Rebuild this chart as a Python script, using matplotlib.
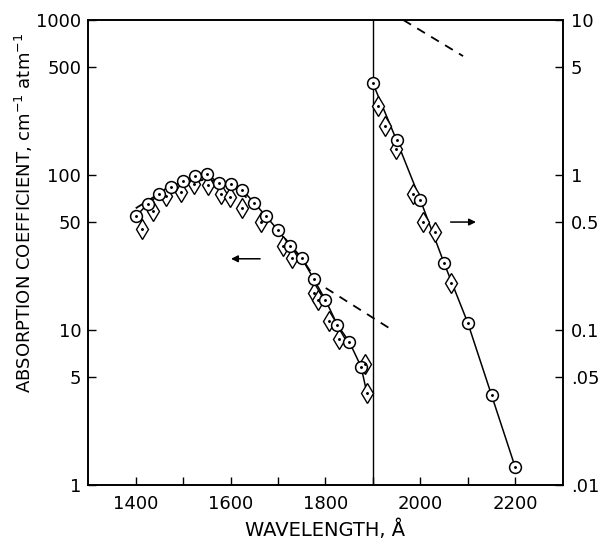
import numpy as np
import matplotlib
matplotlib.use("Agg")
import matplotlib.pyplot as plt

# --- dados ---
# lado esquerdo (eixo esquerdo, cm^-1 atm^-1)
circ_x = [1400, 1425, 1450, 1475, 1500, 1525, 1550, 1575, 1600, 1625,
          1650, 1675, 1700, 1725, 1750, 1775, 1800, 1825, 1850, 1875]
circ_y = [54, 65, 75, 84, 91, 98, 101, 89, 87, 80,
          66, 54, 44, 35, 29, 21.4, 15.6, 10.8, 8.4, 5.8]
diam_x = [1413, 1436, 1463, 1495, 1522, 1552, 1579, 1598, 1625, 1663,
          1710, 1729, 1775, 1785, 1807, 1829, 1884, 1887]
diam_y = [44.5, 59, 73, 78, 88, 86, 75, 72, 61, 50,
          35, 29, 17.4, 15.6, 11.4, 8.8, 6.0, 3.95]
dash_x = [1400, 1450, 1500, 1550, 1600, 1650, 1700, 1750, 1785, 1934]
dash_y = [61, 76, 88, 94, 87, 65, 44, 29, 20, 10.3]

# lado direito (eixo direito)
circ2_x = [1900, 1950, 2000, 2050, 2100, 2150, 2200]
circ2_y = [3.9, 1.67, 0.69, 0.27, 0.111, 0.038, 0.013]
diam2_x = [1910, 1926, 1948, 1985, 2006, 2030, 2064]
diam2_y = [2.78, 2.07, 1.47, 0.75, 0.50, 0.43, 0.20]
dash2_x = [1964, 2090]
dash2_y = [10, 5.85]

left_ticks = [1, 5, 10, 50, 100, 500, 1000]
left_labels = ["1", "5", "10", "50", "100", "500", "1000"]
right_ticks = [0.01, 0.05, 0.1, 0.5, 1, 5, 10]
right_labels = [".01", ".05", "0.1", "0.5", "1", "5", "10"]
x_ticks = [1400, 1500, 1600, 1700, 1800, 1900, 2000, 2100, 2200]
x_labels = ["1400", "", "1600", "", "1800", "", "2000", "", "2200"]

plt.rcParams['font.family'] = ['DejaVu Sans']

fig = plt.figure(figsize=(5.99, 5.39), dpi=100)
ax = fig.add_axes([0.1474, 0.1002, 0.792, 0.8627])
ax2 = ax.twinx()

ax.set_xlim(1300, 2300)
ax.set_yscale('log')
ax.set_ylim(1, 1000)
ax2.set_yscale('log')
ax2.set_ylim(0.01, 10)

circ_kw = dict(marker='o', ms=8.5, mfc='white', mec='black', mew=1.1, ls='none', zorder=4)
diam_kw = dict(marker='d', ms=10, mfc='white', mec='black', mew=1.0, ls='none', zorder=3)
dot_kw = dict(marker='.', ms=2.2, color='black', ls='none', zorder=5)

# esquerda
ax.plot(circ_x + [diam_x[-1]], circ_y + [diam_y[-1]], color='black', lw=1.1, zorder=2)
ax.plot(dash_x, dash_y, color='black', lw=1.3, ls=(0, (5, 4)), zorder=2)
ax.plot(diam_x, diam_y, **diam_kw)
ax.plot(circ_x, circ_y, **circ_kw)
ax.plot(diam_x, diam_y, **dot_kw)
ax.plot(circ_x, circ_y, **dot_kw)

# direita
ax2.plot(circ2_x, circ2_y, color='black', lw=1.1, zorder=2)
ax2.plot(dash2_x, dash2_y, color='black', lw=1.3, ls=(0, (5, 4)), zorder=2, clip_on=False)
ax2.plot(diam2_x, diam2_y, **diam_kw)
ax2.plot(circ2_x, circ2_y, **circ_kw)
ax2.plot(diam2_x, diam2_y, **dot_kw)
ax2.plot(circ2_x, circ2_y, **dot_kw)

ax.axvline(1900, color='black', lw=1.0)

# setas
arr = dict(arrowstyle='-|>', color='black', lw=1.1, mutation_scale=10)
ax.annotate('', xy=(1595, 28.8), xytext=(1668, 28.8), arrowprops=arr)
ax2.annotate('', xy=(2123, 0.497), xytext=(2058, 0.497), arrowprops=arr)

ax.set_xticks(x_ticks)
ax.set_xticklabels(x_labels)
ax.set_yticks(left_ticks)
ax.set_yticklabels(left_labels)
ax.minorticks_off()
ax2.set_yticks(right_ticks)
ax2.set_yticklabels(right_labels)
ax2.minorticks_off()

ax.tick_params(axis='x', direction='in', length=6, width=1, pad=7, labelsize=13)
ax.tick_params(axis='y', direction='in', length=6, width=1, pad=5, labelsize=13)
ax2.tick_params(axis='y', direction='in', length=6, width=1, pad=6, labelsize=13)

for a in (ax, ax2):
    for s in a.spines.values():
        s.set_linewidth(1.2)

ax.set_xlabel("WAVELENGTH, Å", fontsize=14)
ax.xaxis.set_label_coords(0.5, -0.075)
ax.set_ylabel("ABSORPTION COEFFICIENT, cm$^{-1}$ atm$^{-1}$", fontsize=13)
ax.yaxis.set_label_coords(-0.112, 0.585)

fig.savefig("out.png", dpi=100)
